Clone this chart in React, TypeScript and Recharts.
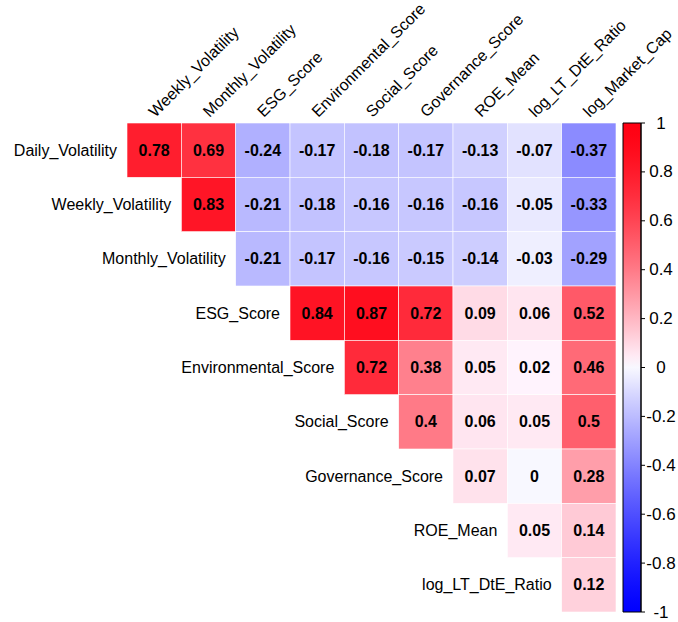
import React from 'react';
import { ScatterChart, Scatter, XAxis, YAxis, ReferenceArea } from 'recharts';

// Variables
const ROW_VARS = ['Daily_Volatility', 'Weekly_Volatility', 'Monthly_Volatility', 'ESG_Score', 'Environmental_Score', 'Social_Score', 'Governance_Score', 'ROE_Mean', 'log_LT_DtE_Ratio'];
const COL_VARS = ['Weekly_Volatility', 'Monthly_Volatility', 'ESG_Score', 'Environmental_Score', 'Social_Score', 'Governance_Score', 'ROE_Mean', 'log_LT_DtE_Ratio', 'log_Market_Cap'];

// Correlations: each row starts at the column with the same index as the row
const DAILY_VOL = [0.78, 0.69, -0.24, -0.17, -0.18, -0.17, -0.13, -0.07, -0.37];
const WEEKLY_VOL = [0.83, -0.21, -0.18, -0.16, -0.16, -0.16, -0.05, -0.33];
const MONTHLY_VOL = [-0.21, -0.17, -0.16, -0.15, -0.14, -0.03, -0.29];
const ESG = [0.84, 0.87, 0.72, 0.09, 0.06, 0.52];
const ENV = [0.72, 0.38, 0.05, 0.02, 0.46];
const SOCIAL = [0.4, 0.06, 0.05, 0.5];
const GOV = [0.07, 0, 0.28];
const ROE = [0.05, 0.14];
const LOG_LT = [0.12];
const ROWS = [DAILY_VOL, WEEKLY_VOL, MONTHLY_VOL, ESG, ENV, SOCIAL, GOV, ROE, LOG_LT];

const CB_TICKS = [1, 0.8, 0.6, 0.4, 0.2, 0, -0.2, -0.4, -0.6, -0.8, -1];

// Layout (page coordinates; the chart is placed at the page's top-left corner)
const W = 678;
const H = 622;
const N = 9;
const PLOT_TOP = 123;
const PLOT = 489;
const CELL = PLOT / N;
const LEFT = 127;
const CB_AXIS_W = 37;
const PLOT_RIGHT = W - CB_AXIS_W;
const XMAX = (PLOT_RIGHT - LEFT) / CELL;
const CB_X1 = (623 - LEFT) / CELL;
const XAXIS_H = 30;
const FONT = 'Arial, "Liberation Sans", Helvetica, sans-serif';

function color(v: number): string {
  if (v > 0) {
    const g = 250 * Math.pow(1 - Math.min(1, v), 1.4);
    const b = Math.min(255, g + 10 + 8 * v);
    return `rgb(255,${Math.round(g)},${Math.round(b)})`;
  }
  const a = Math.min(1, -v);
  const g = 248 * Math.pow(1 - a, 1.25);
  return `rgb(${Math.round(g)},${Math.round(g)},255)`;
}

const cellData: { x: number; y: number; v: number }[] = [];
ROWS.forEach((vals, i) => {
  vals.forEach((v, k) => {
    cellData.push({ x: i + k + 0.5, y: i + 0.5, v });
  });
});
const rowLabelData = ROW_VARS.map((name, i) => ({ x: i, y: i + 0.5, name }));
const cbAnchorData = CB_TICKS.map((v) => ({ x: XMAX, y: v }));

const gradStops: { off: number; c: string }[] = [];
for (let k = 0; k <= 40; k++) {
  const v = 1 - k * 0.05;
  gradStops.push({ off: k / 40, c: color(v) });
}

const CellShape = (props: any) => {
  const { cx, cy, payload } = props;
  if (cx == null || cy == null) return null;
  return (
    <g>
      <rect x={cx - CELL / 2} y={cy - CELL / 2} width={CELL} height={CELL} fill={color(payload.v)} stroke="#ffffff" strokeWidth={0.6} />
      <text x={cx} y={cy} textAnchor="middle" dominantBaseline="central" fontFamily={FONT} fontWeight="bold" fontSize={16} fill="#000">
        {String(payload.v)}
      </text>
    </g>
  );
};

const RowLabel = (props: any) => {
  const { cx, cy, payload } = props;
  if (cx == null || cy == null) return null;
  return (
    <text x={cx - 10} y={cy} textAnchor="end" dominantBaseline="central" fontFamily={FONT} fontSize={16} fill="#000">
      {payload.name}
    </text>
  );
};

const Nothing = () => <g />;

const ColTick = (props: any) => {
  const { x, y, payload } = props;
  const idx = Math.round(payload.value - 0.5);
  const name = COL_VARS[idx];
  if (!name) return null;
  const ax = x + 1;
  const ay = y;
  return (
    <text x={ax} y={ay} transform={`rotate(-45 ${ax} ${ay})`} textAnchor="start" fontFamily={FONT} fontSize={16} fill="#000">
      {name}
    </text>
  );
};

const CbTick = (props: any) => {
  const { x, y, payload } = props;
  return (
    <text x={x + 14} y={y} textAnchor="middle" dominantBaseline="central" fontFamily={FONT} fontSize={17} fill="#000">
      {String(payload.value)}
    </text>
  );
};

const COL_TICKS = COL_VARS.map((_, j) => j + 0.5);

export default function App() {
  return (
    <div style={{ position: 'absolute', left: 0, top: 0 }}>
      <ScatterChart
        width={W}
        height={H}
        margin={{ top: PLOT_TOP - XAXIS_H, right: 0, bottom: H - PLOT_TOP - PLOT, left: LEFT }}
      >
        <defs>
          <linearGradient id="cbGrad" x1="0" y1="0" x2="0" y2="1">
            {gradStops.map((s, i) => (
              <stop key={i} offset={s.off} stopColor={s.c} />
            ))}
          </linearGradient>
        </defs>
        <XAxis
          type="number"
          dataKey="x"
          orientation="top"
          domain={[0, XMAX]}
          ticks={COL_TICKS}
          interval={0}
          height={XAXIS_H}
          axisLine={false}
          tickLine={false}
          tickSize={0}
          tickMargin={5}
          tick={<ColTick />}
        />
        <YAxis type="number" dataKey="y" domain={[0, N]} reversed hide />
        <YAxis
          yAxisId="cb"
          type="number"
          dataKey="y"
          orientation="right"
          domain={[-1, 1]}
          ticks={CB_TICKS}
          interval={0}
          width={CB_AXIS_W}
          axisLine={{ stroke: '#000' }}
          tickLine={{ stroke: '#000' }}
          tickSize={4}
          tickMargin={2}
          tick={<CbTick />}
        />
        <ReferenceArea
          x1={CB_X1}
          x2={XMAX}
          y1={-1}
          y2={1}
          yAxisId="cb"
          fill="url(#cbGrad)"
          fillOpacity={1}
          stroke="#000"
          strokeWidth={1}
          ifOverflow="visible"
        />
        <Scatter data={cellData} shape={<CellShape />} isAnimationActive={false} />
        <Scatter data={rowLabelData} shape={<RowLabel />} isAnimationActive={false} />
        <Scatter data={cbAnchorData} yAxisId="cb" shape={<Nothing />} isAnimationActive={false} />
      </ScatterChart>
    </div>
  );
}
